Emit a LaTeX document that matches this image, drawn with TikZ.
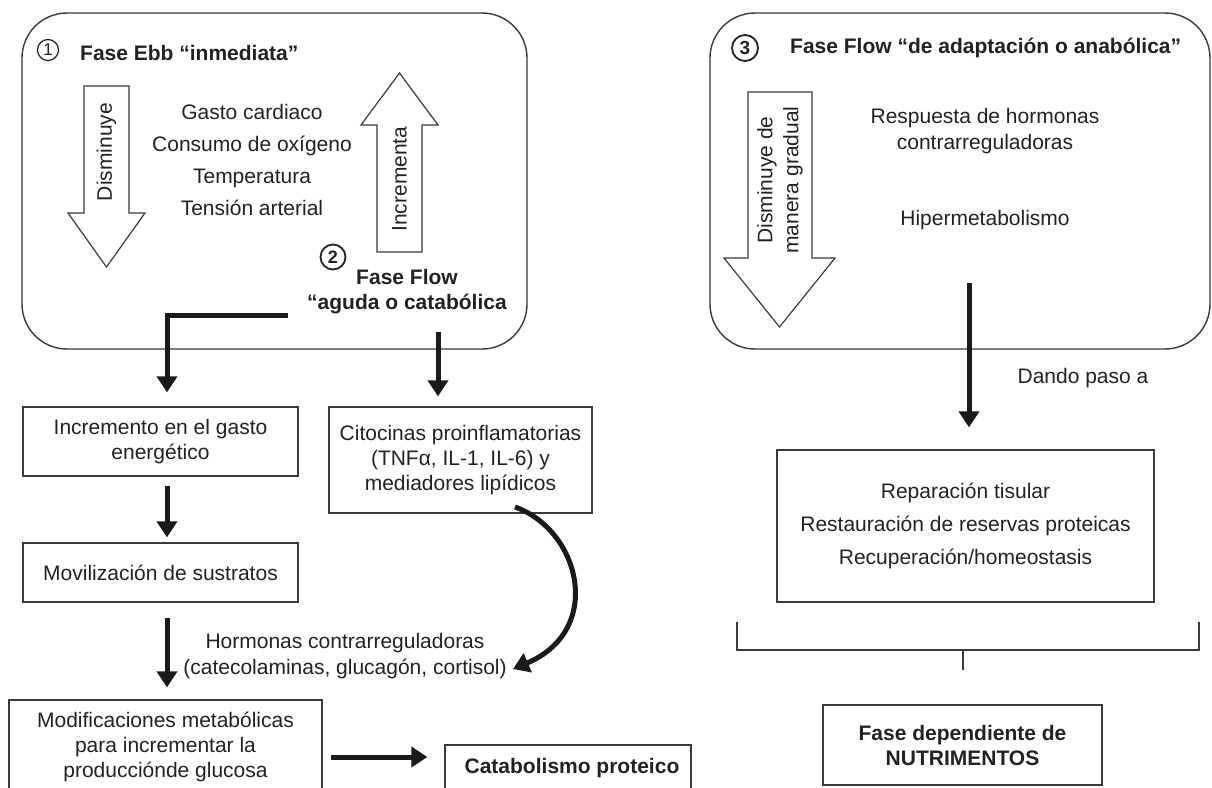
\documentclass[tikz,border=0pt]{standalone}
\usepackage{fontspec}
\setmainfont{Liberation Sans}
\usetikzlibrary{arrows.meta,calc}
\definecolor{ink}{HTML}{222222}
\definecolor{edge}{HTML}{3A3A3A}
\definecolor{heavy}{HTML}{1A1A1A}
\begin{document}
\begin{tikzpicture}[x=1pt,y=-1pt,
  every node/.style={text=ink, inner sep=0pt, font=\fontsize{21}{25}\selectfont},
  panel/.style={draw=edge, line width=1.4pt, rounded corners=45pt, fill=white},
  stepbox/.style={draw=edge, line width=1.3pt, fill=white, align=center},
  blockarrow/.style={draw=edge, line width=1.2pt, fill=white},
  flow/.style={draw=heavy, line width=5pt, -{Triangle[width=20pt,length=16pt]}},
  thin/.style={draw=edge, line width=1.3pt},
  num/.style={circle, draw=ink, line width=1.2pt, minimum size=#1},
  title/.style={font=\bfseries\fontsize{21}{25}\selectfont},
]
\useasboundingbox (0,0) rectangle (1212,787);
\fill[white] (0,0) rectangle (1212,787);
\clip (0,0) rectangle (1212,787);

% ---- panel 1: Ebb phase and acute Flow phase ----
\node[panel, minimum width=505pt, minimum height=336pt] (ebb) at (274.5,181) {};
\node[num=21pt, font=\fontsize{17}{17}\selectfont] (n1) at (48,50) {1};
\node[title, anchor=west] (ebbtitle) at (80,53) {Fase Ebb “inmediata”};
\draw[blockarrow] (84,86) -- (129,86) -- (129,213) -- (145,213) -- (106.5,267) -- (68,213) -- (84,213) -- cycle;
\node[rotate=90] (dism) at (106.5,152) {Disminuye};
\node[align=center, font=\fontsize{21}{32}\selectfont] (vitals) at (252,160)
  {Gasto cardiaco\\Consumo de oxígeno\\Temperatura\\Tensión arterial};
\draw[blockarrow] (377,252) -- (422,252) -- (422,125) -- (438,125) -- (399.5,73) -- (361,125) -- (377,125) -- cycle;
\node[rotate=90] (incr) at (399.5,179) {Incrementa};
\node[num=25pt, line width=1.8pt, font=\bfseries\fontsize{18}{18}\selectfont] (n2) at (333,257) {2};
\node[title, align=center] (flowtitle) at (407,292) {Fase Flow\\“aguda o catabólica};
\coordinate (lstart) at (288,315);
\coordinate (lturn) at (167,315);
\coordinate (cstart) at (438,332);

% ---- panel 3: adaptive / anabolic Flow phase ----
\node[panel, minimum width=500pt, minimum height=336pt] (ana) at (960,181) {};
\node[num=26pt, line width=1.8pt, font=\bfseries\fontsize{19}{19}\selectfont] (n3) at (745,48) {3};
\node[title, anchor=west] (anatitle) at (790,48) {Fase Flow “de adaptación o anabólica”};
\draw[blockarrow] (748,92) -- (812,92) -- (812,258) -- (835,258) -- (779.5,327) -- (724,258) -- (748,258) -- cycle;
\node[rotate=90, align=center, font=\fontsize{21}{26}\selectfont] (grad) at (780,180) {Disminuye de\\manera gradual};
\node[align=center, font=\fontsize{21}{26}\selectfont] (resp) at (985,131) {Respuesta de hormonas\\contrarreguladoras};
\node (hiper) at (985,220) {Hipermetabolismo};
\coordinate (dstart) at (969,283);

% ---- left column ----
\node[stepbox, minimum width=275pt, minimum height=69pt] (inc) at (160.5,441.5) {Incremento en el gasto\\energético};
\node[stepbox, minimum width=275pt, minimum height=59pt] (mov) at (160.5,572.5) {Movilización de sustratos};
\node[stepbox, minimum width=313pt, minimum height=94pt] (mod) at (165.5,747) {Modificaciones metabólicas\\para incrementar la\\produccióndе glucosa};
\node[stepbox, minimum width=246pt, minimum height=46pt, title] (cat) at (568,768) {\hspace*{8pt}Catabolismo proteico};
\node[stepbox, minimum width=263pt, minimum height=106pt] (cit) at (460.5,460) {Citocinas proinflamatorias\\(TNFα, IL-1, IL-6) y\\mediadores lipídicos};
\node[align=center, font=\fontsize{21}{26}\selectfont] (horm) at (345,656) {Hormonas contrarreguladoras\\(catecolaminas, glucagón, cortisol)};
\coordinate (cvstart) at (515,507);
\coordinate (cvend) at (513,669);

% ---- right column ----
\node[stepbox, minimum width=377pt, minimum height=152pt, font=\fontsize{21}{33}\selectfont] (rep) at (965.5,526) {Reparación tisular\\Restauración de reservas proteicas\\Recuperación/homeostasis};
\node (paso) at (1083,378) {Dando paso a};
\node[stepbox, minimum width=279pt, minimum height=80pt, title] (nut) at (962.5,745) {Fase dependiente de\\NUTRIMENTOS};
\coordinate (brl) at (737,622);
\coordinate (brr) at (1199,622);
\coordinate (brm) at (963,650);

% ---- connectors ----
\draw[flow, shorten >=14pt] (lstart) -- (lturn) -- (lturn |- inc.north);
\draw[flow, shorten >=10pt] (cstart) -- (cstart |- cit.north);
\draw[flow, shorten <=9pt, shorten >=5pt] ($(inc.south)+(6.5,0)$) -- ($(mov.north)+(6.5,0)$);
\draw[flow, shorten <=15pt, shorten >=12pt] ($(mov.south)+(6.5,0)$) -- ($(mod.north)+(1.5,0)$);
\draw[flow, shorten <=8pt, shorten >=17pt] ($(mod.east)+(0,10)$) -- ($(cat.west)+(0,-11)$);
\draw[flow] (cvstart) .. controls (580,530) and (605,630) .. (cvend);
\draw[flow, shorten >=22pt] (dstart) -- (dstart |- rep.north);
\draw[thin] (brl) -- (brl |- brm) -- (brr |- brm) -- (brr);
\draw[thin] (brm) -- ++(0,20);
\end{tikzpicture}
\end{document}
